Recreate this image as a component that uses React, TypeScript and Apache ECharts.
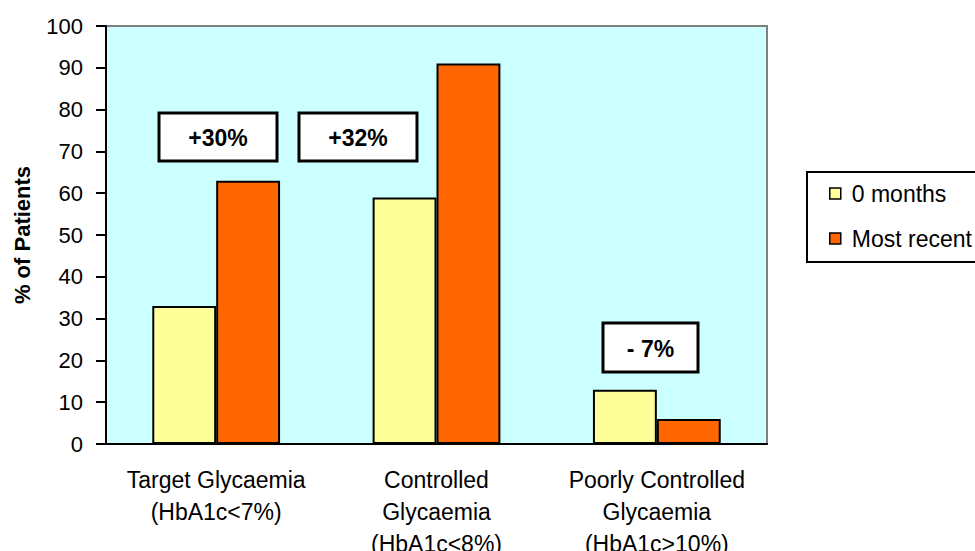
import React, { useEffect, useRef } from "react";
import * as echarts from "echarts";

const categories = [
  "Target Glycaemia\n(HbA1c<7%)",
  "Controlled\nGlycaemia\n(HbA1c<8%)",
  "Poorly Controlled\nGlycaemia\n(HbA1c>10%)",
];
const seriesNames = ["0 months", "Most recent"];
const zeroMonths = [33, 59, 13];
const mostRecent = [63, 91, 6];
const annotations = ["+30%", "+32%", "- 7%"];

const FONT = "'Liberation Sans', Arial, sans-serif";

export default function App() {
  const ref = useRef<HTMLDivElement>(null);
  useEffect(() => {
    if (!ref.current) return;
    const chart = echarts.init(ref.current, undefined, { renderer: "svg" });
    const box = (x: number, y: number, w: number, h: number, t: string) => ({
      type: "group",
      x,
      y,
      children: [
        {
          type: "rect",
          shape: { x: 0, y: 0, width: w, height: h },
          style: { fill: "#ffffff", stroke: "#000000", lineWidth: 3 },
        },
        {
          type: "text",
          x: w / 2,
          y: h / 2 + 1,
          style: {
            text: t,
            fill: "#000000",
            font: `bold 23px ${FONT}`,
            align: "center",
            verticalAlign: "middle",
          },
        },
      ],
    });
    chart.setOption({
      animation: false,
      backgroundColor: "#ffffff",
      textStyle: { fontFamily: FONT },
      grid: {
        left: 106,
        top: 26,
        right: 208,
        bottom: 107,
        outerBoundsMode: "none",
        containLabel: false,
        show: true,
        backgroundColor: "#CCFFFF",
        borderColor: "#808080",
        borderWidth: 2,
      },
      legend: {
        orient: "vertical",
        left: 807,
        top: 172,
        padding: [10, 40, 12, 22],
        itemGap: 22,
        itemWidth: 11,
        itemHeight: 11,
        borderColor: "#000000",
        borderWidth: 2,
        backgroundColor: "#ffffff",
        borderRadius: 0,
        icon: "rect",
        itemStyle: { borderColor: "#000000", borderWidth: 1.5 },
        textStyle: {
          fontSize: 23,
          color: "#000000",
          lineHeight: 23,
          fontFamily: FONT,
          padding: [0, 0, 0, 6],
        },
        data: seriesNames,
      },
      xAxis: {
        type: "category",
        data: categories,
        boundaryGap: true,
        axisLine: { lineStyle: { color: "#000000", width: 2 } },
        axisTick: { length: 9, lineStyle: { color: "#000000", width: 2 } },
        axisLabel: {
          color: "#000000",
          fontSize: 23,
          lineHeight: 32,
          margin: 20,
          fontFamily: FONT,
          interval: 0,
        },
      },
      yAxis: {
        type: "value",
        min: 0,
        max: 100,
        interval: 10,
        name: "% of Patients",
        nameLocation: "middle",
        nameGap: 73,
        nameRotate: 90,
        nameTextStyle: { color: "#000000", fontSize: 22, fontWeight: "bold", fontFamily: FONT },
        axisLine: { show: true, lineStyle: { color: "#000000", width: 2 } },
        axisTick: { show: true, length: 10, lineStyle: { color: "#000000", width: 2 } },
        splitLine: { show: false },
        axisLabel: { color: "#000000", fontSize: 22, margin: 23, fontFamily: FONT },
      },
      series: [
        {
          name: seriesNames[0],
          type: "bar",
          data: zeroMonths,
          barGap: "0%",
          barCategoryGap: "42%",
          itemStyle: { color: "#FFFF99", borderColor: "#000000", borderWidth: 2 },
        },
        {
          name: seriesNames[1],
          type: "bar",
          data: mostRecent,
          barGap: "0%",
          barCategoryGap: "42%",
          itemStyle: { color: "#FF6600", borderColor: "#000000", borderWidth: 2 },
        },
      ],
      graphic: [
        box(159, 113, 118, 48, annotations[0]),
        box(299, 113, 118, 48, annotations[1]),
        box(603, 323, 95, 49, annotations[2]),
      ],
    });
    return () => chart.dispose();
  }, []);
  return (
    <div
      ref={ref}
      style={{ position: "fixed", left: 0, top: 0, width: 975, height: 551 }}
    />
  );
}
